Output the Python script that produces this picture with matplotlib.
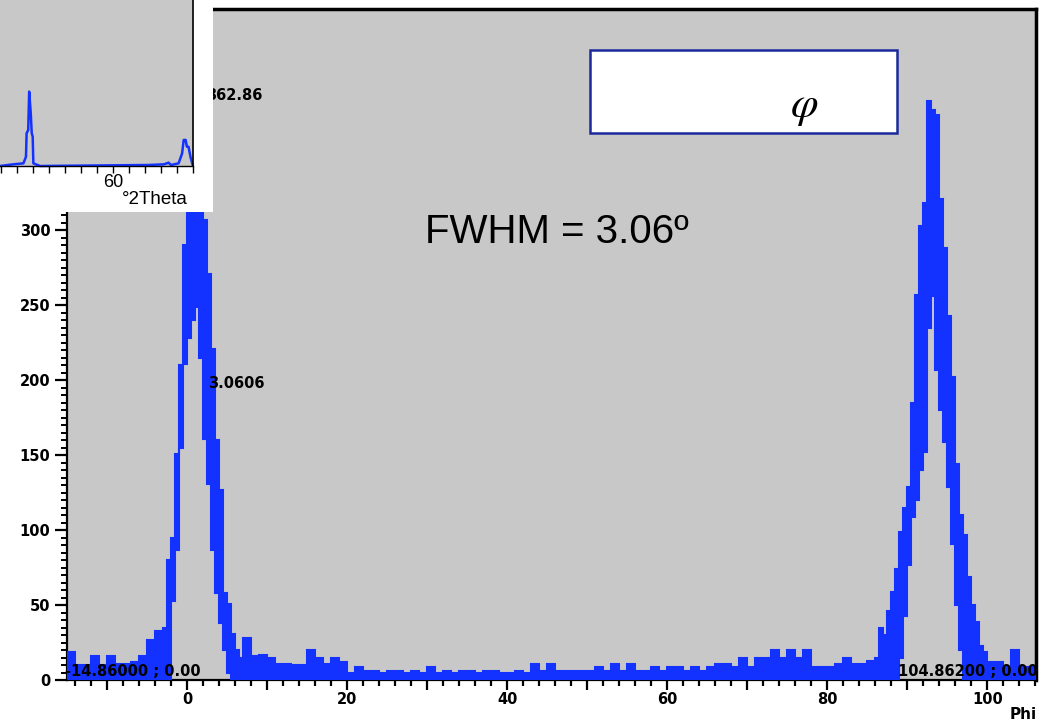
import numpy as np
import matplotlib
matplotlib.use("Agg")
import matplotlib.pyplot as plt
from matplotlib.patches import Rectangle
from matplotlib.ticker import MultipleLocator, FuncFormatter

# ---- phi scan (upper / lower envelope of the noisy trace) ----
# baseline left of first peak, 1 deg bins starting at -15
base1_hi = [19, 10, 10, 16, 10, 16, 11, 11, 12, 16, 27, 33]

# first peak, 0.5 deg bins starting at -3.0
peak1_hi = [35, 80, 95, 151, 210, 290, 335, 363, 348, 318,
            307, 271, 221, 160, 127, 58, 51, 31, 20, 15]
peak1_lo = [0, 0, 53, 87, 155, 211, 228, 240, 249, 215,
            161, 131, 87, 58, 38, 20, 5, 0, 0, 0]

# baseline between peaks, 1 deg bins starting at 7
base2_hi = [28, 16, 17, 15, 11, 11, 10, 10, 20, 15,
            11, 15, 12, 5, 9, 6, 6, 5, 6, 6,
            5, 6, 5, 9, 5, 6, 5, 6, 6, 5,
            6, 6, 5, 5, 6, 5, 11, 6, 11, 6,
            6, 6, 6, 6, 9, 6, 11, 6, 11, 6,
            6, 9, 6, 9, 9, 6, 9, 6, 9, 11,
            11, 9, 15, 9, 15, 15, 20, 15, 20, 15,
            20, 9, 9, 9, 11, 15, 11, 11, 13]

# second peak, 0.5 deg bins starting at 86.0
peak2_hi = [15, 35, 30, 46, 59, 74, 99, 115, 129, 185, 257,
            303, 318, 386, 380, 377, 321, 288, 243, 202, 144,
            110, 97, 69, 50, 39, 23, 19, 12, 12]
peak2_lo = [0, 0, 0, 0, 0, 0, 15, 43, 77, 109, 120,
            140, 152, 235, 256, 207, 180, 159, 129, 91, 50,
            20, 0, 0, 0, 0, 0, 0, 0, 0]

# tail, 1 deg bins starting at 101
base3_hi = [12, 9, 20, 9, 9]

# inset 2theta scan
inset_2theta = [24.8, 28.9, 32.1, 32.9, 33.1, 33.6, 33.9, 34.4, 34.7, 35.0, 35.2, 37.3,
                71.0, 75.9, 77.4, 78.1, 80.5, 81.6, 82.1, 82.7, 83.1, 83.6, 84.2, 84.9]
inset_counts = [0, 1, 1.6, 5.6, 19.7, 21.7, 44.8, 31.7, 19.7, 17.7, 1.6, 0,
                0.6, 1, 2, 0.6, 1.6, 7.6, 15.7, 15.7, 11.6, 11.6, 5.6, 0.6]

BLUE = "#1432ff"
GRAY = "#c8c8c8"

edges = np.concatenate([np.arange(-15, -3, 1.0), np.arange(-3, 7, 0.5),
                        np.arange(7, 86, 1.0), np.arange(86, 101, 0.5),
                        np.arange(101, 106, 1.0), [106.2]])
hi = np.array(base1_hi + peak1_hi + base2_hi + peak2_hi + base3_hi, dtype=float)
lo = np.array([0] * len(base1_hi) + peak1_lo + [0] * len(base2_hi) + peak2_lo
              + [0] * len(base3_hi), dtype=float)

W, H = 1042, 721
fig = plt.figure(figsize=(W / 100, H / 100), dpi=100)

ax = fig.add_axes([67 / W, 1 - 680 / H, (1036 - 67) / W, (680 - 8.5) / H])
ax.set_facecolor(GRAY)
ax.stairs(hi, edges, baseline=lo, fill=True, color=BLUE, lw=0, zorder=3)
ax.stairs(hi, edges, baseline=lo, fill=False, color=BLUE, lw=1.5, zorder=3)
ax.set_xlim(-15, 106.1)
ax.set_ylim(0, 448)

for s in ax.spines.values():
    s.set_color("black")
ax.spines["left"].set_linewidth(1.6)
ax.spines["bottom"].set_linewidth(1.6)
ax.spines["top"].set_linewidth(2.5)
ax.spines["right"].set_linewidth(2.5)

ax.xaxis.set_major_locator(MultipleLocator(10))
ax.xaxis.set_minor_locator(MultipleLocator(2))
ax.xaxis.set_major_formatter(FuncFormatter(lambda v, p: f"{v:.0f}" if v % 20 == 0 else ""))
ax.yaxis.set_major_locator(MultipleLocator(50))
ax.yaxis.set_minor_locator(MultipleLocator(5))
ax.tick_params(axis="x", which="major", length=7.5, width=1.6, pad=1.5)
ax.tick_params(axis="x", which="minor", length=4, width=1.6)
ax.tick_params(axis="y", which="major", length=8.5, width=1.6, pad=3.5)
ax.tick_params(axis="y", which="minor", length=4.5, width=1.4)
for lab in ax.get_xticklabels() + ax.get_yticklabels():
    lab.set_fontfamily("DejaVu Sans")
    lab.set_fontweight("bold")
    lab.set_fontsize(10.5)

ann = dict(fontfamily="DejaVu Sans", fontweight="bold", fontsize=10.5, color="black",
           va="center", zorder=4, clip_on=False)
ax.text(9.4, 390, "362.86", ha="right", **ann)
ax.text(2.6, 198, "3.0606", ha="left", **ann)
ax.text(-15.3, 5.5, "-14.86000 ; 0.00", ha="left", **ann)
ax.text(88.9, 5.5, "104.86200 ; 0.00", ha="left", **ann)

fig.text(1010 / W, 1 - 707 / H, "Phi", ha="left", va="top", fontfamily="DejaVu Sans",
         fontweight="bold", fontsize=11)

# FWHM label and phi box
fig.text(425 / W, 1 - 232 / H, "FWHM = 3.06º", ha="left", va="center",
         fontfamily="Liberation Sans", fontsize=29, zorder=5)
fig.add_artist(Rectangle((590 / W, 1 - 133 / H), 307 / W, 83 / H, transform=fig.transFigure,
                         facecolor="white", edgecolor="#1a2a9c", lw=1.8, zorder=4))
plt.rcParams["mathtext.fontset"] = "stix"
fig.text(804 / W, 1 - 106 / H, r"$\varphi$", ha="center", va="center", fontsize=32, zorder=5)

# inset with the 2theta scan
fig.add_artist(Rectangle((0, 1 - 212 / H), 213 / W, 212 / H, transform=fig.transFigure,
                         facecolor="white", edgecolor="none", zorder=6))
axin = fig.add_axes([0, 1 - 166 / H, 193 / W, 166 / H], zorder=7)
axin.set_facecolor(GRAY)
axin.plot(inset_2theta, inset_counts, color=BLUE, lw=1.8, clip_on=False)
axin.set_xlim(24.8, 85)
axin.set_ylim(0, 100)
axin.spines["left"].set_visible(False)
axin.spines["top"].set_visible(False)
axin.spines["right"].set_linewidth(1.2)
axin.spines["bottom"].set_linewidth(1.0)
axin.set_yticks([])
axin.xaxis.set_major_locator(MultipleLocator(30))
axin.xaxis.set_minor_locator(MultipleLocator(5))
axin.xaxis.set_major_formatter(FuncFormatter(lambda v, p: "60" if v == 60 else ""))
axin.tick_params(axis="x", which="both", length=5, width=1, pad=1, labelsize=13)
for lab in axin.get_xticklabels():
    lab.set_fontfamily("Liberation Sans")
axin.text(188 / 193, -(200 - 166) / 166, "°2Theta", transform=axin.transAxes, ha="right",
          va="center", fontfamily="Liberation Sans", fontsize=13.5)

fig.savefig("out.png", dpi=100)
